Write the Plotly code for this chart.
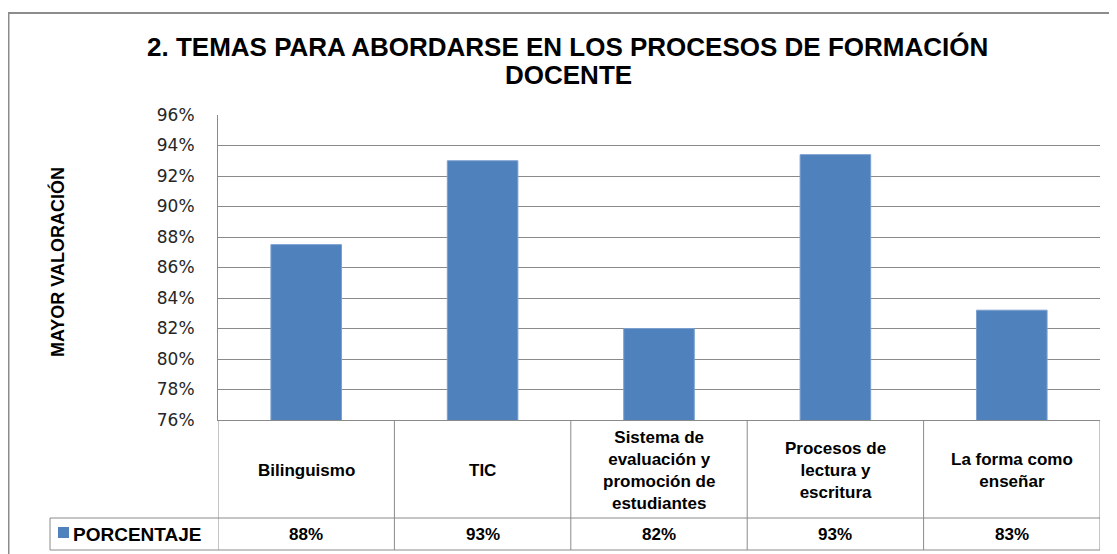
import plotly.graph_objects as go

# chart data
temas = ["Bilinguismo", "TIC", "Sistema de evaluación y promoción de estudiantes",
         "Procesos de lectura y escritura", "La forma como enseñar"]
etiquetas = ["Bilinguismo", "TIC", "Sistema de<br>evaluación y<br>promoción de<br>estudiantes",
             "Procesos de<br>lectura y<br>escritura", "La forma como<br>enseñar"]
porcentaje = [0.875, 0.93, 0.82, 0.934, 0.832]
serie = "PORCENTAJE"
titulo = ["2. TEMAS PARA ABORDARSE EN LOS PROCESOS DE FORMACIÓN", "DOCENTE"]
titulo_y = "MAYOR VALORACIÓN"

# the page body has an 8px margin, so the figure is drawn 8px in and 8px down
OFF = 8
W, H = 1117 - OFF, 554 - OFF
L, T = 218 - OFF, 115 - OFF
R, B = W - (1100 - OFF), H - (420 - OFF)
pw, ph = W - L - R, H - T - B


def px(x):
    # x in screen pixels -> paper coords
    return (x - OFF - L) / pw


def py(y):
    return (H - B - (y - OFF)) / ph


GRID = "#8a8a8a"
FONT = "Liberation Sans, Arial, sans-serif"

fig = go.Figure()
fig.add_trace(go.Bar(
    x=list(range(len(temas))), y=porcentaje, name=serie,
    marker=dict(color="#4F81BD", line=dict(color="#7a9fcf", width=1)),
    hovertext=temas, showlegend=False,
))

fig.update_layout(
    width=W, height=H, autosize=False,
    margin=dict(l=L, r=R, t=T, b=B),
    paper_bgcolor="white", plot_bgcolor="white",
    bargap=0.6,
)
fig.update_xaxes(range=[-0.5, len(temas) - 0.5], showticklabels=False, showgrid=False,
                 showline=True, linecolor=GRID, linewidth=1, zeroline=False, fixedrange=True)
fig.update_yaxes(range=[0.76, 0.96], dtick=0.02, tickformat=".0%",
                 showgrid=True, gridcolor=GRID, gridwidth=1,
                 showline=True, linecolor=GRID, linewidth=1, zeroline=False,
                 ticklabelstandoff=19,
                 tickfont=dict(family="DejaVu Sans, sans-serif", size=17, color="#262626"))

shapes = []
# outer chart border
shapes.append(dict(type="rect", xref="paper", yref="paper",
                   x0=px(8.5), x1=px(1140), y0=py(580), y1=py(13),
                   line=dict(color="#8c8c8c", width=2), fillcolor="rgba(0,0,0,0)", layer="below"))
# data table lines
shapes.append(dict(type="line", xref="paper", yref="paper", x0=px(50), x1=1,
                   y0=py(518), y1=py(518), line=dict(color=GRID, width=1)))
shapes.append(dict(type="line", xref="paper", yref="paper", x0=px(50), x1=1,
                   y0=py(550), y1=py(550), line=dict(color=GRID, width=1)))
shapes.append(dict(type="line", xref="paper", yref="paper", x0=px(50), x1=px(50),
                   y0=py(518), y1=py(550), line=dict(color=GRID, width=1)))
for i in range(len(temas) + 1):
    shapes.append(dict(type="line", xref="x", yref="paper", x0=i - 0.5, x1=i - 0.5,
                       y0=0, y1=py(550), line=dict(color=GRID, width=1)))
# legend key
shapes.append(dict(type="rect", xref="paper", yref="paper",
                   x0=px(58), x1=px(69), y0=py(538), y1=py(527),
                   fillcolor="#4F81BD", line=dict(width=0)))
fig.update_layout(shapes=shapes)

annotations = [
    dict(text=titulo[0], xref="paper", yref="paper", x=px(567), y=py(47),
         showarrow=False, xanchor="center", yanchor="middle",
         font=dict(family=FONT, size=26, color="black", weight="bold")),
    dict(text=titulo[1], xref="paper", yref="paper", x=px(568), y=py(75),
         showarrow=False, xanchor="center", yanchor="middle",
         font=dict(family=FONT, size=26, color="black", weight="bold")),
    dict(text=titulo_y, xref="paper", yref="paper", x=px(57), y=py(262), textangle=-90,
         showarrow=False, xanchor="center", yanchor="middle",
         font=dict(family=FONT, size=18, color="black", weight="bold")),
    dict(text=serie, xref="paper", yref="paper", x=px(71), y=py(534),
         showarrow=False, xanchor="left", yanchor="middle",
         font=dict(family=FONT, size=19, color="black", weight="bold")),
]
for i, (lab, v) in enumerate(zip(etiquetas, porcentaje)):
    annotations.append(dict(text=lab, xref="x", yref="paper", x=i, y=py(470),
                            showarrow=False, xanchor="center", yanchor="middle",
                            font=dict(family=FONT, size=17, color="black", weight="bold")))
    annotations.append(dict(text=f"{v:.0%}", xref="x", yref="paper", x=i, y=py(534),
                            showarrow=False, xanchor="center", yanchor="middle",
                            font=dict(family=FONT, size=17, color="black", weight="bold")))
fig.update_layout(annotations=annotations)

fig.write_html("out.html")
